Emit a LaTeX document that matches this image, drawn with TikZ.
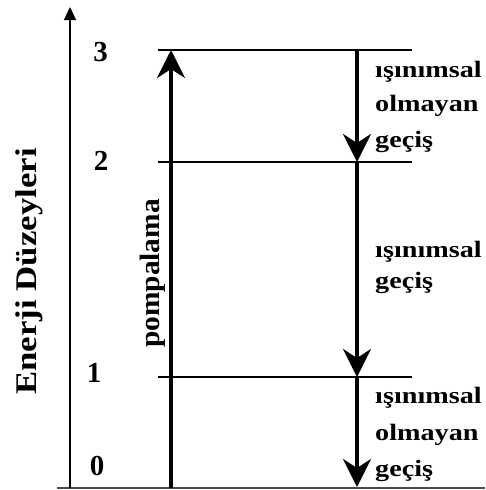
\documentclass[tikz,border=0pt]{standalone}
\usepackage{fontspec}
\setmainfont{Liberation Serif}
\newfontfamily\lblfont[FakeStretch=1.2]{Liberation Serif}
\newfontfamily\axfont[FakeStretch=1.16]{Liberation Serif}
\newfontfamily\pumpfont[FakeStretch=1.05]{Liberation Serif}
\usetikzlibrary{arrows.meta}
\begin{document}
\begin{tikzpicture}[x=1pt,y=-1pt,
 lvl/.style={line width=1.2pt},
 big/.style={line width=3.6pt,-{Stealth[length=28pt,width=28pt,inset=9pt]}},
 lbl/.style={font=\lblfont\bfseries\fontsize{23.5}{26}\selectfont, anchor=base west, inner sep=0pt},
 num/.style={font=\bfseries\fontsize{29}{32}\selectfont, inner sep=0pt}]
\useasboundingbox (0,0) rectangle (485,490);
% base line and axis
\coordinate (bl) at (57,488);
\coordinate (br) at (485,488);
\draw[line width=1.5pt, black!70] (bl) -- (br);
\coordinate (ax0) at (70,488);
\coordinate (ax1) at (70,7);
\draw[line width=1.3pt, -{Triangle[length=13pt,width=12pt]}] (ax0) -- (ax1);
% levels
\coordinate (l3a) at (158,50);  \coordinate (l3b) at (412,50);
\coordinate (l2a) at (158,162); \coordinate (l2b) at (412,162);
\coordinate (l1a) at (158,377); \coordinate (l1b) at (412,377);
\draw[lvl] (l3a) -- (l3b);
\draw[lvl] (l2a) -- (l2b);
\draw[lvl] (l1a) -- (l1b);
% numbers
\node[num] (n3) at (100.5,52) {3};
\node[num] (n2) at (101,161) {2};
\node[num] (n1) at (94,373) {1};
\node[num] (n0) at (97,466) {0};
% axis label
\node[font=\axfont\bfseries\fontsize{30}{34}\selectfont, rotate=90, inner sep=0pt, anchor=base] (ax) at (36,271.5) {Enerji Düzeyleri};
% pump
\coordinate (p0) at (171,488);
\coordinate (p1) at (171,50);
\draw[big] (p0) -- (p1);
\node[font=\pumpfont\bfseries\fontsize{28}{30}\selectfont, rotate=90, inner sep=0pt, anchor=base] (pump) at (159,273.5) {pompalama};
% down transitions
\coordinate (d3) at (357,50);
\coordinate (d2) at (357,162);
\coordinate (d1) at (357,377);
\coordinate (d0) at (357,487);
\draw[big] (d3) -- (d2);
\draw[big] (d2) -- (d1);
\draw[big] (d1) -- (d0);
% labels
\node[lbl] (t1) at (375,77) {ışınımsal};
\node[lbl] (t2) at (375,111) {olmayan};
\node[lbl] (t3) at (375,147) {geçiş};
\node[lbl] (m1) at (375,257) {ışınımsal};
\node[lbl] (m2) at (375,288) {geçiş};
\node[lbl] (b1) at (375,403) {ışınımsal};
\node[lbl] (b2) at (375,440) {olmayan};
\node[lbl] (b3) at (375,476) {geçiş};
\end{tikzpicture}
\end{document}
